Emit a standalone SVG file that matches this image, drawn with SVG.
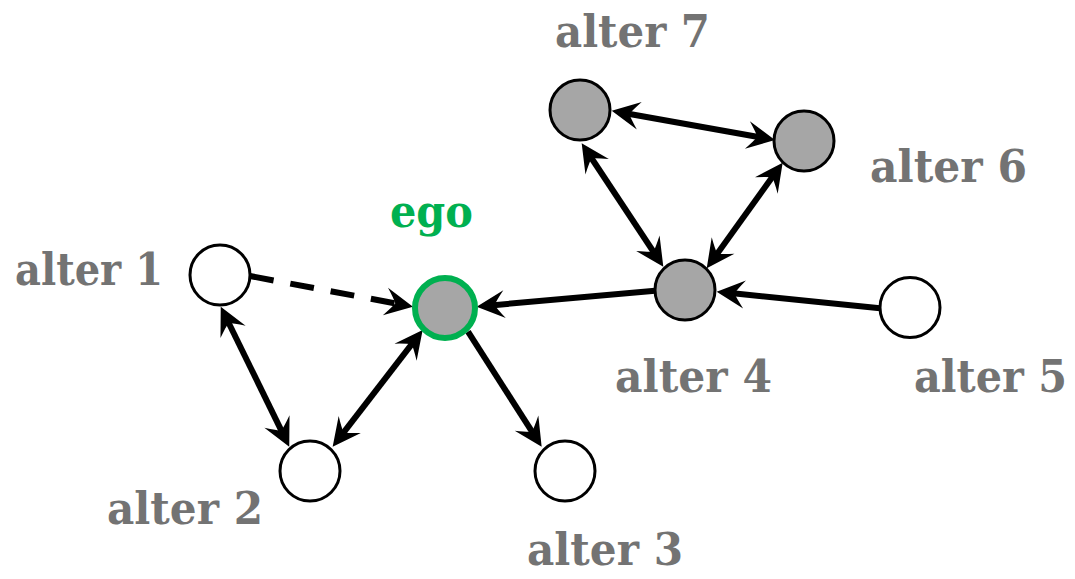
<svg xmlns="http://www.w3.org/2000/svg" width="1075" height="579" viewBox="0 0 1075 579">
<style>
.edge{stroke:#000;stroke-width:6;fill:none;marker-end:url(#ah)}
.bi{marker-start:url(#ah)}
.dash{stroke-dasharray:24 17}
.node{stroke:#000;stroke-width:3}
.white{fill:#fff}
.grey{fill:#a6a6a6}
.ego{fill:#a6a6a6;stroke:#00b050;stroke-width:6}
.lbl{font-family:"DejaVu Serif","Liberation Serif",serif;font-weight:bold;font-size:44px;fill:#737373}
.elbl{font-family:"DejaVu Serif","Liberation Serif",serif;font-weight:bold;font-size:44px;fill:#00b050}
</style>
<defs>
<marker id="ah" markerUnits="userSpaceOnUse" orient="auto-start-reverse" refX="-14" refY="0" markerWidth="40" markerHeight="40" overflow="visible">
<path d="M0,0 L-28,-14 Q-20,-4 -18,0 Q-20,4 -28,14 Z" fill="#000"/>
</marker>
</defs>
<rect width="1075" height="579" fill="#fff"/>
<g id="connectors">
<line class="edge dash" x1="250" y1="276" x2="399.2" y2="304.1"/>
<line class="edge bi" x1="226.9" y1="319.3" x2="283.1" y2="434.1"/>
<line class="edge bi" x1="341.2" y1="435.6" x2="414.1" y2="341.1"/>
<line class="edge" x1="468" y1="331.7" x2="534.1" y2="434.9"/>
<line class="edge" x1="655" y1="290.7" x2="490.6" y2="305.4"/>
<line class="edge" x1="880" y1="308.3" x2="730.6" y2="293.1"/>
<line class="edge bi" x1="589.4" y1="155" x2="655.6" y2="255"/>
<line class="edge bi" x1="714.9" y1="256.9" x2="774.5" y2="174.1"/>
<line class="edge bi" x1="625.5" y1="113.2" x2="761.2" y2="137.5"/>
</g>
<g id="ego">
<circle class="ego" cx="445" cy="308" r="30"/>
<text class="elbl" x="390" y="227" textLength="83" lengthAdjust="spacingAndGlyphs">ego</text>
</g>
<g id="alter1">
<circle class="node white" cx="220" cy="275" r="30"/>
<text class="lbl" x="15" y="285" textLength="148" lengthAdjust="spacingAndGlyphs">alter 1</text>
</g>
<g id="alter2">
<circle class="node white" cx="310" cy="471" r="30"/>
<text class="lbl" x="107" y="524" textLength="156" lengthAdjust="spacingAndGlyphs">alter 2</text>
</g>
<g id="alter3">
<circle class="node white" cx="565" cy="471" r="30"/>
<text class="lbl" x="527" y="565" textLength="156" lengthAdjust="spacingAndGlyphs">alter 3</text>
</g>
<g id="alter4">
<circle class="node grey" cx="685" cy="290" r="30"/>
<text class="lbl" x="615" y="392" textLength="157" lengthAdjust="spacingAndGlyphs">alter 4</text>
</g>
<g id="alter5">
<circle class="node white" cx="910" cy="307.5" r="30"/>
<text class="lbl" x="914" y="392" textLength="153" lengthAdjust="spacingAndGlyphs">alter 5</text>
</g>
<g id="alter6">
<circle class="node grey" cx="804" cy="141" r="30"/>
<text class="lbl" x="870" y="182" textLength="157" lengthAdjust="spacingAndGlyphs">alter 6</text>
</g>
<g id="alter7">
<circle class="node grey" cx="580" cy="110" r="30"/>
<text class="lbl" x="555" y="47" textLength="155" lengthAdjust="spacingAndGlyphs">alter 7</text>
</g>
</svg>
